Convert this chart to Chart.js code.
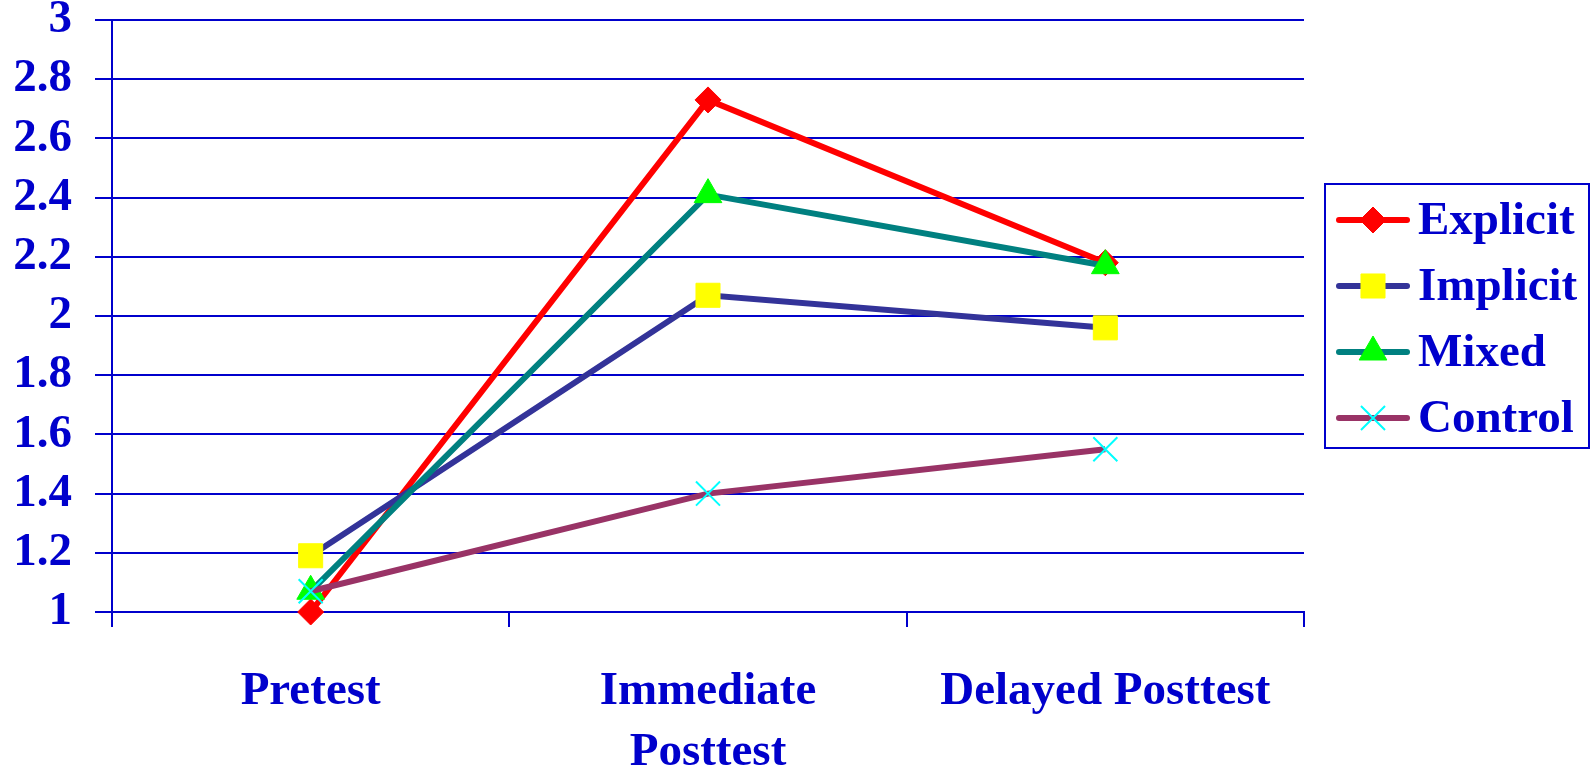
<!DOCTYPE html>
<html>
<head>
<meta charset="utf-8">
<script src="https://cdn.jsdelivr.net/npm/chart.js@4.4.1/dist/chart.umd.min.js"></script>
<style>
  html, body { margin: 0; padding: 0; background: #fff; }
  #wrap { width: 1592px; height: 770px; position: relative; }
</style>
</head>
<body>
<div id="wrap"><canvas id="chart"></canvas></div>
<script>
// data
const testPhases = ['Pretest', ['Immediate', 'Posttest'], 'Delayed Posttest'];
const seriesNames = ['Explicit', 'Implicit', 'Mixed', 'Control'];
const explicitScores = [1.0, 2.73, 2.18];
const implicitScores = [1.19, 2.07, 1.96];
const mixedScores = [1.07, 2.41, 2.17];
const controlScores = [1.07, 1.40, 1.55];

const BLUE = '#0000CC';
const FONT = '"Liberation Serif", "Times New Roman", serif';

// legend drawn as a boxed list, like the original
const boxLegend = {
  id: 'boxLegend',
  afterDraw(chart) {
    const ctx = chart.ctx;
    ctx.save();
    ctx.strokeStyle = BLUE;
    ctx.lineWidth = 2;
    ctx.strokeRect(1325, 184, 264, 264);
    chart.data.datasets.forEach((ds, i) => {
      const y = 220 + i * 66;
      ctx.lineCap = 'round';
      ctx.lineWidth = 6;
      ctx.strokeStyle = ds.borderColor;
      ctx.beginPath();
      ctx.moveTo(1339, y);
      ctx.lineTo(1407, y);
      ctx.stroke();
      ctx.lineCap = 'butt';
      ctx.fillStyle = ds.pointBackgroundColor;
      ctx.strokeStyle = ds.pointBorderColor;
      ctx.lineWidth = ds.pointBorderWidth;
      if (Chart.helpers && Chart.helpers.drawPoint) {
        Chart.helpers.drawPoint(ctx, {
          pointStyle: ds.pointStyle, radius: ds.pointRadius,
          rotation: 0, borderWidth: ds.pointBorderWidth
        }, 1373, y);
      }
      ctx.fillStyle = BLUE;
      ctx.font = 'bold 47px ' + FONT;
      ctx.textBaseline = 'middle';
      ctx.textAlign = 'left';
      ctx.fillText(ds.label, 1418, y + 2);
    });
    ctx.restore();
  }
};

function series(label, data, line, marker, style, radius, order) {
  return {
    label, data, order,
    clip: false,
    borderColor: line,
    borderWidth: 6,
    pointStyle: style,
    pointRadius: radius,
    pointHoverRadius: radius,
    pointBackgroundColor: marker,
    pointBorderColor: marker,
    pointBorderWidth: style === 'crossRot' ? 2 : 1,
    tension: 0,
    fill: false
  };
}

new Chart(document.getElementById('chart'), {
  type: 'line',
  data: {
    labels: testPhases,
    datasets: [
      series(seriesNames[0], explicitScores, '#FF0000', '#FF0000', 'rectRot', 13, 3),
      series(seriesNames[1], implicitScores, '#333399', '#FFFF00', 'rect', 17, 2),
      series(seriesNames[2], mixedScores, '#008080', '#00FF00', 'triangle', 16, 1),
      series(seriesNames[3], controlScores, '#993366', '#00FFFF', 'crossRot', 17, 0)
    ]
  },
  options: {
    responsive: true,
    maintainAspectRatio: false,
    animation: false,
    layout: { padding: { top: 0, right: 288, bottom: 0, left: 0 } },
    plugins: {
      legend: { display: false },
      tooltip: { enabled: false }
    },
    scales: {
      x: {
        offset: true,
        grid: {
          offset: true,
          drawOnChartArea: false,
          drawTicks: true,
          tickLength: 15,
          color: BLUE,
          lineWidth: 2
        },
        border: { display: true, color: BLUE, width: 2 },
        ticks: {
          color: BLUE,
          font: { family: FONT, size: 47, weight: 'bold', lineHeight: 1.29 },
          padding: 35,
          maxRotation: 0,
          minRotation: 0,
          autoSkip: false
        },
        afterFit(scale) { scale.height = 158; }
      },
      y: {
        min: 1,
        max: 3,
        grid: {
          color: BLUE,
          lineWidth: 2,
          drawTicks: true,
          tickLength: 17
        },
        border: { display: true, color: BLUE, width: 2 },
        ticks: {
          stepSize: 0.2,
          color: BLUE,
          padding: 23,
          font: { family: FONT, size: 47, weight: 'bold', lineHeight: 0.8 },
          callback: v => String(Number(v.toFixed(1)))
        },
        afterFit(scale) {
          scale.width = 112;
          scale.paddingTop = 20;
          scale.paddingBottom = 0;
        }
      }
    }
  },
  plugins: [boxLegend]
});
</script>
</body>
</html>
